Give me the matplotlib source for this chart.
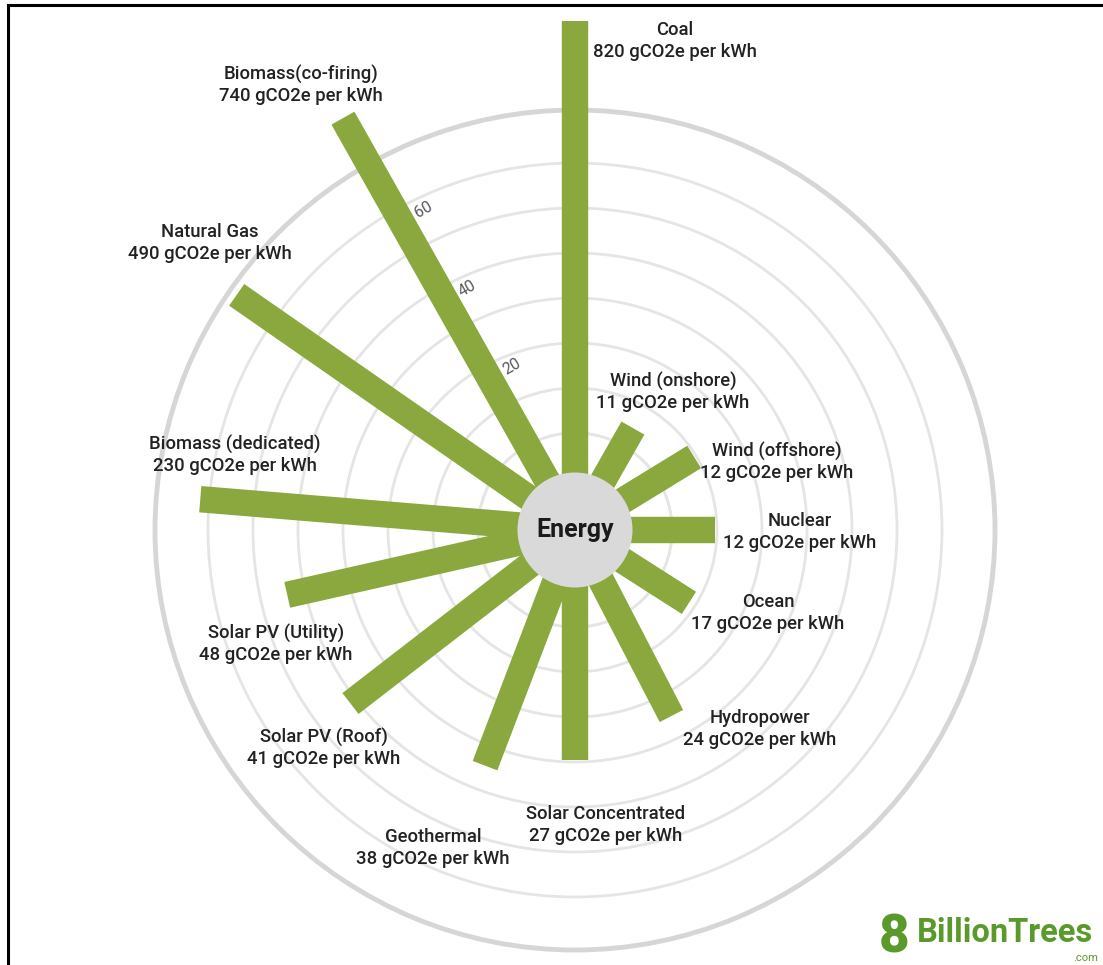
import numpy as np
import matplotlib
matplotlib.use("Agg")
import matplotlib.pyplot as plt
from matplotlib.patches import Circle
from matplotlib.lines import Line2D

# energy sources, clockwise from the top
sources = ["Coal", "Wind (onshore)", "Wind (offshore)", "Nuclear", "Ocean",
           "Hydropower", "Solar Concentrated", "Geothermal", "Solar PV (Roof)",
           "Solar PV (Utility)", "Biomass (dedicated)", "Natural Gas",
           "Biomass(co-firing)"]
# lifecycle emissions, gCO2e per kWh (label text)
emissions = [820, 11, 12, 12, 17, 24, 27, 38, 41, 48, 230, 490, 740]
# bar length on the radial 0-60 scale
bar_score = [91.5, 4.5, 9.5, 9.5, 8.5, 25, 29.5, 34.5, 41.5, 44, 62, 70, 83.5]
radial_ticks = [20, 40, 60]

# layout: bar direction (degrees clockwise from top) and label centres (pixels)
angles_deg = [0, 29.6, 58.5, 90, 122.6, 152.6, 180, 200.9, 232.3, 257.3,
              274.7, 304.8, 330.6]
label_px = [(675, 41), (673, 392), (777, 462), (800, 532), (768, 613),
            (760, 729), (606, 825), (433, 848), (324, 748), (276, 644),
            (235, 455), (210, 243), (301, 85)]

W, H = 1103, 965
cx, cy, R = 575, 530, 420
hole = 97          # pixel radius of the zero ring
px_unit = 4.5      # pixels per scale unit
green = "#8aa83d"
grid_col = "#e5e5e5"
text_col = "#222222"

fig = plt.figure(figsize=(W / 100, H / 100), dpi=100)
fig.patch.set_facecolor("white")
ax = fig.add_axes([(cx - R) / W, (H - cy - R) / H, 2 * R / W, 2 * R / H],
                  projection="polar")
ax.set_theta_zero_location("N")
ax.set_theta_direction(-1)

r_origin = -hole / px_unit
r_max = (R - hole) / px_unit

for ang, v in zip(angles_deg, bar_score):
    th = np.deg2rad(ang)
    ax.plot([th, th], [r_origin, v], color=green, lw=19,
            solid_capstyle="butt", clip_on=False, zorder=3)

ax.set_rorigin(r_origin)
ax.set_ylim(0, r_max)
ax.set_xticks([])
ax.set_yticks(np.arange(0, 61, 10))
ax.set_yticklabels([])
ax.tick_params(axis="y", length=0)
ax.yaxis.grid(True, color=grid_col, lw=2)
ax.xaxis.grid(False)
ax.set_axisbelow(True)
ax.spines["polar"].set_color("#d6d6d6")
ax.spines["polar"].set_linewidth(3.5)
ax.spines["inner"].set_color(grid_col)
ax.spines["inner"].set_linewidth(2)
ax.patch.set_alpha(0)

# scale numbers run alongside the co-firing bar
tick_dir = np.deg2rad(angles_deg[-1])
for t in radial_ticks:
    ax.annotate(str(t), xy=(tick_dir, t - 3), xytext=(15.7, 8.8),
                textcoords="offset points", ha="center", va="center",
                rotation=30, fontsize=11.5, color="#5a5a5a",
                family="Roboto", annotation_clip=False, zorder=4)

# centre hub
ax.add_patch(Circle((0.5, 0.5), 57.5 / (2 * R), transform=ax.transAxes,
                    facecolor="#d9d9d9", edgecolor="none", zorder=5,
                    clip_on=False))
ax.text(0.5, 0.5, "Energy", transform=ax.transAxes, ha="center",
        va="center", fontsize=18, fontweight="semibold", color="#1a1a1a",
        family="Roboto", zorder=6)

for name, e, (x, y) in zip(sources, emissions, label_px):
    fig.text(x / W, 1 - y / H, f"{name}\n{e} gCO2e per kWh", ha="center",
             va="center", fontsize=13.3, fontweight="medium", linespacing=1.25,
             color=text_col, family="Roboto")

# logo
logo_green = "#5a9a2a"
fig.text(879 / W, 1 - 938 / H, "8", ha="left", va="center", fontsize=38,
         fontweight="heavy", color=logo_green, family="Roboto")
fig.text(917 / W, 1 - 933 / H, "BillionTrees", ha="left", va="center",
         fontsize=23.5, fontweight="bold", color=logo_green, family="Roboto")
fig.text(1098 / W, 1 - 958 / H, ".com", ha="right", va="center",
         fontsize=8, color=logo_green, family="Roboto")

# frame edges
fig.add_artist(Line2D([7.5 / W, 7.5 / W], [0, 1 - 4.5 / H],
                      transform=fig.transFigure, color="black", lw=2.2))
fig.add_artist(Line2D([7.5 / W, 1], [1 - 4.5 / H, 1 - 4.5 / H],
                      transform=fig.transFigure, color="black", lw=2.2))

fig.savefig("out.png", dpi=100, facecolor="white")
